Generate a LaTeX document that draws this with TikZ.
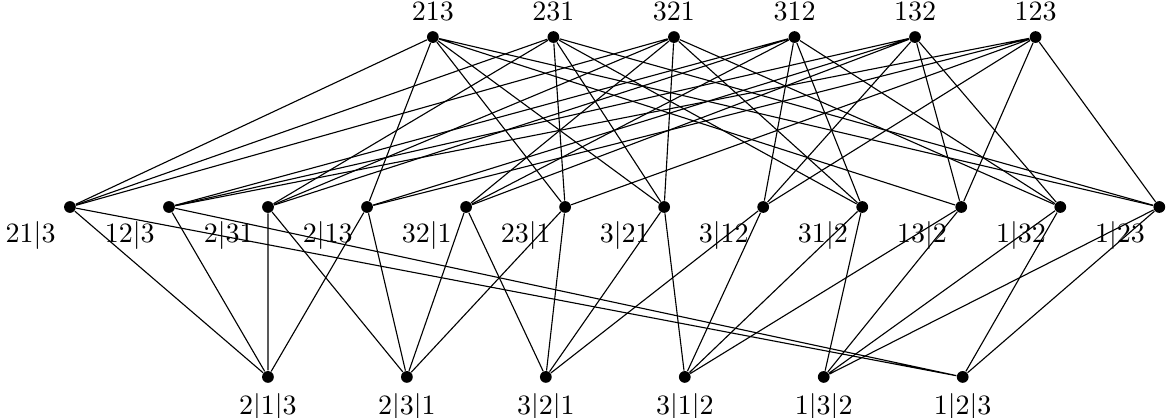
\documentclass[tikz,border=0pt]{standalone}
\usepackage{tikz}

\begin{document}
\begin{tikzpicture}[
  punto/.style={circle, fill=black, inner sep=0pt, minimum size=4.2pt},
  lato/.style={line width=0.4pt}]

\useasboundingbox (0,0) rectangle (14.66,5.245);

% Quote dei tre livelli
\def\yt{4.78}
\def\ym{2.647}
\def\yb{0.514}

% Livello superiore: permutazioni
\node[punto, label=above:$213$] (p213) at (5.433,\yt) {};
\node[punto, label=above:$231$] (p231) at (6.946,\yt) {};
\node[punto, label=above:$321$] (p321) at (8.459,\yt) {};
\node[punto, label=above:$312$] (p312) at (9.972,\yt) {};
\node[punto, label=above:$132$] (p132) at (11.485,\yt) {};
\node[punto, label=above:$123$] (p123) at (12.998,\yt) {};

% Livello intermedio: due blocchi
\node[punto, label=below left:$21|3$] (m21b3) at (0.878,\ym) {};
\node[punto, label=below left:$12|3$] (m12b3) at (2.121,\ym) {};
\node[punto, label=below left:$2|31$] (m2b31) at (3.364,\ym) {};
\node[punto, label=below left:$2|13$] (m2b13) at (4.607,\ym) {};
\node[punto, label=below left:$32|1$] (m32b1) at (5.850,\ym) {};
\node[punto, label=below left:$23|1$] (m23b1) at (7.093,\ym) {};
\node[punto, label=below left:$3|21$] (m3b21) at (8.336,\ym) {};
\node[punto, label=below left:$3|12$] (m3b12) at (9.579,\ym) {};
\node[punto, label=below left:$31|2$] (m31b2) at (10.822,\ym) {};
\node[punto, label=below left:$13|2$] (m13b2) at (12.065,\ym) {};
\node[punto, label=below left:$1|32$] (m1b32) at (13.308,\ym) {};
\node[punto, label=below left:$1|23$] (m1b23) at (14.551,\ym) {};

% Livello inferiore: tre blocchi
\node[punto, label=below:$2|1|3$] (s2b1b3) at (3.363,\yb) {};
\node[punto, label=below:$2|3|1$] (s2b3b1) at (5.107,\yb) {};
\node[punto, label=below:$3|2|1$] (s3b2b1) at (6.851,\yb) {};
\node[punto, label=below:$3|1|2$] (s3b1b2) at (8.595,\yb) {};
\node[punto, label=below:$1|3|2$] (s1b3b2) at (10.339,\yb) {};
\node[punto, label=below:$1|2|3$] (s1b2b3) at (12.083,\yb) {};

% Archi superiore -- intermedio
\draw[lato] (p213) -- (m21b3) (p213) -- (m2b13) (p213) -- (m23b1)
  (p213) -- (m3b21) (p213) -- (m13b2) (p213) -- (m1b23);
\draw[lato] (p231) -- (m21b3) (p231) -- (m2b31) (p231) -- (m23b1)
  (p231) -- (m3b21) (p231) -- (m31b2) (p231) -- (m1b23);
\draw[lato] (p321) -- (m21b3) (p321) -- (m2b31) (p321) -- (m32b1)
  (p321) -- (m3b21) (p321) -- (m31b2) (p321) -- (m1b32);
\draw[lato] (p312) -- (m12b3) (p312) -- (m2b31) (p312) -- (m32b1)
  (p312) -- (m3b12) (p312) -- (m31b2) (p312) -- (m1b32);
\draw[lato] (p132) -- (m12b3) (p132) -- (m2b13) (p132) -- (m32b1)
  (p132) -- (m3b12) (p132) -- (m13b2) (p132) -- (m1b32);
\draw[lato] (p123) -- (m12b3) (p123) -- (m2b13) (p123) -- (m23b1)
  (p123) -- (m3b12) (p123) -- (m13b2) (p123) -- (m1b23);

% Archi intermedio -- inferiore
\draw[lato] (s2b1b3) -- (m21b3) (s2b1b3) -- (m12b3) (s2b1b3) -- (m2b31) (s2b1b3) -- (m2b13);
\draw[lato] (s2b3b1) -- (m2b31) (s2b3b1) -- (m2b13) (s2b3b1) -- (m32b1) (s2b3b1) -- (m23b1);
\draw[lato] (s3b2b1) -- (m32b1) (s3b2b1) -- (m23b1) (s3b2b1) -- (m3b21) (s3b2b1) -- (m3b12);
\draw[lato] (s3b1b2) -- (m3b21) (s3b1b2) -- (m3b12) (s3b1b2) -- (m31b2) (s3b1b2) -- (m13b2);
\draw[lato] (s1b3b2) -- (m31b2) (s1b3b2) -- (m13b2) (s1b3b2) -- (m1b32) (s1b3b2) -- (m1b23);
\draw[lato] (s1b2b3) -- (m21b3) (s1b2b3) -- (m12b3) (s1b2b3) -- (m1b32) (s1b2b3) -- (m1b23);

\end{tikzpicture}
\end{document}
